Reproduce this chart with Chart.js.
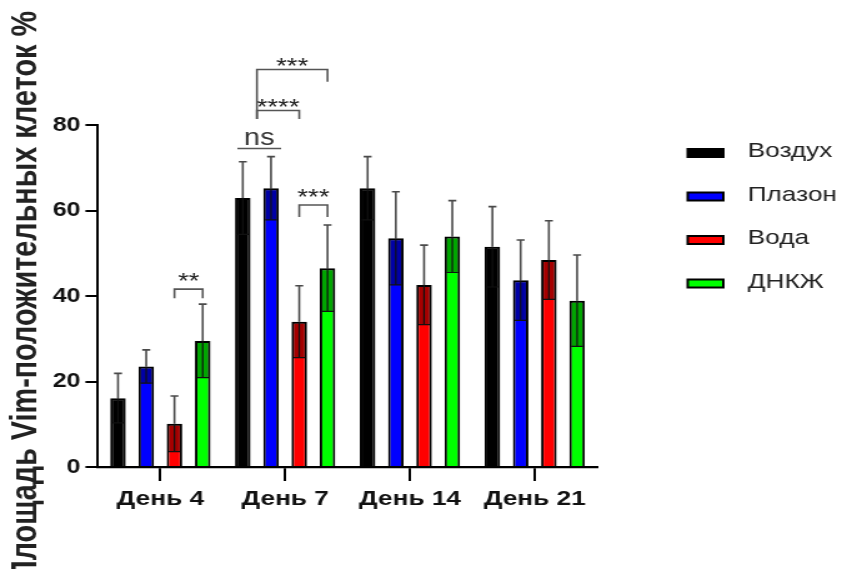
<!DOCTYPE html>
<html>
<head>
<meta charset="utf-8">
<script src="https://cdn.jsdelivr.net/npm/chart.js@4.4.0/dist/chart.umd.min.js"></script>
<style>
    html, body { margin: 0; padding: 0; background: #fff; }
    #myChart { display: block; }
</style>
</head>
<body>
<canvas id="myChart" width="674" height="569" style="width:842px;height:569px"></canvas>
<script>
var days = ["День 4", "День 7", "День 14", "День 21"];
var groupNames = ["Воздух", "Плазон", "Вода", "ДНКЖ"];
var groupColors = ["#000000", "#0000ff", "#ff0000", "#00ff00"];

// mean values, %
var airValues = [16.1, 62.9, 65.2, 51.5];
var plazonValues = [23.5, 65.2, 53.5, 43.7];
var waterValues = [10.1, 34.0, 42.6, 48.4];
var dnkzhValues = [29.5, 46.5, 53.9, 38.9];

// standard deviations
var airSd = [5.8, 8.5, 7.4, 9.4];
var plazonSd = [3.9, 7.4, 10.9, 9.4];
var waterSd = [6.5, 8.4, 9.3, 9.2];
var dnkzhSd = [8.6, 10.1, 8.4, 10.7];

var yTicks = [0, 20, 40, 60, 80];

// significance brackets (day index, from bar, to bar, level, leg ends, label)
var sigDay = [0, 1, 1, 1];
var sigFrom = [2, 2, 0.5, 0.5];
var sigTo = [3, 3, 2, 3];
var sigLevel = [41.6, 61.3, 83.4, 93.0];
var sigLeftEnd = [39.5, 58.5, 81.4, 81.4];
var sigRightEnd = [39.5, 58.5, 81.4, 90.1];
var sigText = ["**", "***", "****", "***"];

// "ns" between Воздух and Плазон on day 7
var nsDay = 1;
var nsLevel = 74.5;

var allValues = [airValues, plazonValues, waterValues, dnkzhValues];
var allSd = [airSd, plazonSd, waterSd, dnkzhSd];

var fontFamily = "'Liberation Sans', Arial, sans-serif";

function barX(chart, day, pos) {
    var a = Math.floor(pos), b = Math.ceil(pos), t = pos - a;
    var xa = chart.getDatasetMeta(a).data[day].x;
    var xb = chart.getDatasetMeta(b).data[day].x;
    return xa + (xb - xa) * t;
}

var errorBars = {
    id: 'errorBars',
    afterDatasetsDraw: function (chart) {
        var ctx = chart.ctx;
        var y = chart.scales.y;
        chart.data.datasets.forEach(function (ds, i) {
            var meta = chart.getDatasetMeta(i);
            meta.data.forEach(function (bar, j) {
                var v = ds.data[j];
                var sd = allSd[i][j];
                var top = y.getPixelForValue(v + sd);
                var low = y.getPixelForValue(v - sd);
                var half = bar.width / 2 - 1.5;
                ctx.save();
                // lower half of the error bar, inside the bar
                ctx.fillStyle = 'rgba(0,0,0,0.35)';
                ctx.fillRect(bar.x - half, bar.y + 1, half * 2, low - bar.y - 1);
                ctx.strokeStyle = '#111';
                ctx.lineWidth = 1.2;
                ctx.beginPath();
                ctx.moveTo(bar.x - half, low);
                ctx.lineTo(bar.x + half, low);
                ctx.moveTo(bar.x, bar.y);
                ctx.lineTo(bar.x, low);
                ctx.stroke();
                // upper whisker
                ctx.strokeStyle = '#4a4a4a';
                ctx.lineWidth = 1.6;
                ctx.beginPath();
                ctx.moveTo(bar.x, bar.y);
                ctx.lineTo(bar.x, top);
                ctx.moveTo(bar.x - 3.2, top);
                ctx.lineTo(bar.x + 3.2, top);
                ctx.stroke();
                ctx.restore();
            });
        });
    }
};

var significance = {
    id: 'significance',
    afterDraw: function (chart) {
        var ctx = chart.ctx;
        var y = chart.scales.y;
        ctx.save();
        ctx.strokeStyle = '#555';
        ctx.lineWidth = 1.6;
        ctx.fillStyle = '#222';
        ctx.textAlign = 'center';
        for (var k = 0; k < sigText.length; k++) {
            var x1 = barX(chart, sigDay[k], sigFrom[k]);
            var x2 = barX(chart, sigDay[k], sigTo[k]);
            var yl = y.getPixelForValue(sigLevel[k]);
            ctx.beginPath();
            ctx.moveTo(x1, y.getPixelForValue(sigLeftEnd[k]));
            ctx.lineTo(x1, yl);
            ctx.lineTo(x2, yl);
            ctx.lineTo(x2, y.getPixelForValue(sigRightEnd[k]));
            ctx.stroke();
            ctx.font = '22px ' + fontFamily;
            ctx.textBaseline = 'alphabetic';
            var gap = sigLevel[k] > 80 ? 8 : 13;
            ctx.fillText(sigText[k], (x1 + x2) / 2, yl - gap + 12);
        }
        // ns
        var b0 = chart.getDatasetMeta(0).data[nsDay];
        var b1 = chart.getDatasetMeta(1).data[nsDay];
        var nx1 = b0.x - b0.width * 0.35;
        var nx2 = b1.x + b1.width * 0.65;
        var ny = y.getPixelForValue(nsLevel);
        ctx.beginPath();
        ctx.moveTo(nx1, ny);
        ctx.lineTo(nx2, ny);
        ctx.stroke();
        ctx.font = '23px ' + fontFamily;
        ctx.fillStyle = '#333';
        ctx.fillText('ns', (nx1 + nx2) / 2, ny - 4);
        ctx.restore();
    }
};

var sideLegend = {
    id: 'sideLegend',
    afterDraw: function (chart) {
        var ctx = chart.ctx;
        ctx.save();
        ctx.font = '21px ' + fontFamily;
        ctx.textAlign = 'left';
        ctx.textBaseline = 'alphabetic';
        chart.data.datasets.forEach(function (ds, i) {
            var cy = 153 + i * 43.5;
            ctx.fillStyle = '#000';
            ctx.fillRect(549.5, cy - 5, 30.5, 10);
            ctx.fillStyle = ds.backgroundColor;
            ctx.fillRect(551.5, cy - 3, 26.5, 6);
            ctx.fillStyle = '#222';
            ctx.fillText(ds.label, 598.5, cy + 4);
        });
        ctx.restore();
    }
};

var datasets = groupNames.map(function (name, i) {
    return {
        label: name,
        data: allValues[i],
        backgroundColor: groupColors[i],
        borderColor: '#000',
        borderWidth: 2,
        barPercentage: 0.55,
        categoryPercentage: 0.905
    };
});

new Chart("myChart", {
    type: "bar",
    data: {
        labels: days,
        datasets: datasets
    },
    options: {
        responsive: false,
        animation: false,
        devicePixelRatio: 1,
        layout: { padding: { left: 0, right: 196, top: 125, bottom: 0 } },
        plugins: {
            legend: { display: false },
            tooltip: { enabled: false }
        },
        scales: {
            x: {
                grid: { drawOnChartArea: false, offset: false, tickLength: 14, color: '#000', lineWidth: 2 },
                border: { color: '#000', width: 2.2 },
                ticks: { color: '#111', padding: 6, font: { family: fontFamily, size: 21, weight: 'bold' } },
                afterFit: function (s) { s.height = 102; }
            },
            y: {
                min: 0,
                max: 80,
                afterBuildTicks: function (s) { s.ticks = yTicks.map(function (v) { return { value: v }; }); },
                grid: { drawOnChartArea: false, tickLength: 10, color: '#000', lineWidth: 2 },
                border: { color: '#000', width: 2 },
                ticks: { color: '#111', padding: 4, font: { family: fontFamily, size: 20, weight: 'bold' } },
                title: {
                    display: true,
                    text: "Площадь Vim-положительных клеток %",
                    color: '#222',
                    padding: { top: 4, bottom: 0 },
                    font: { family: fontFamily, size: 28.8, weight: 'bold' }
                },
                afterFit: function (s) { s.width = 78.4; }
            }
        }
    },
    plugins: [errorBars, significance, sideLegend]
});
</script>
</body>
</html>
